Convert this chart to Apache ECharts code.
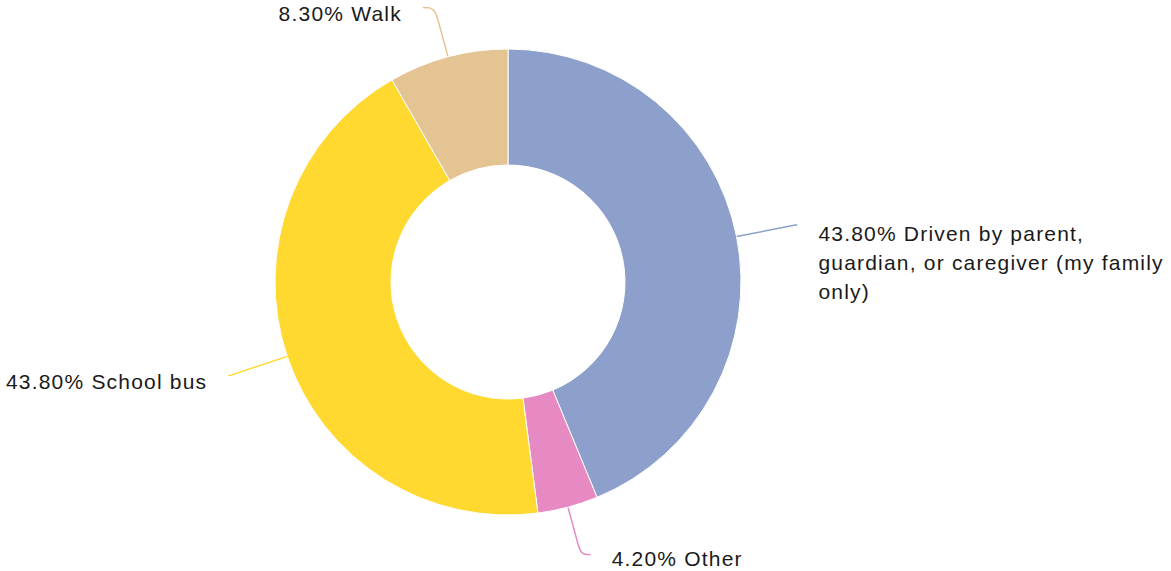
<!DOCTYPE html>
<html>
<head>
<meta charset="utf-8">
<script src="https://cdn.jsdelivr.net/npm/echarts@6/dist/echarts.min.js"></script>
<style>
  html, body { margin: 0; padding: 0; background: #fff; }
  #chart { width: 1171px; height: 571px; }
  #chart text { letter-spacing: 1.2px; }
</style>
</head>
<body>
<div id="chart"></div>
<script>
const categories = [
  "Driven by parent, guardian, or caregiver (my family only)",
  "Other",
  "School bus",
  "Walk"
];
const values = [43.8, 4.2, 43.8, 8.3];
const colors = ["#8da0cb", "#e78ac3", "#ffd92f", "#e5c494"];

// label-line geometry per slice (first segment, second segment) and label vertical nudge
const lineLen = [[60, 2], [49, 10], [60, 2], [51, 12]];
const labelDy = [38, 4, 6, 6];

const chart = echarts.init(document.getElementById('chart'), null, { renderer: 'svg' });

const data = categories.map((name, i) => ({
  name: name,
  value: values[i],
  itemStyle: { color: colors[i] },
  labelLine: { length: lineLen[i][0], length2: lineLen[i][1] }
}));

chart.setOption({
  animation: false,
  series: [{
    type: 'pie',
    center: [508, 282],
    radius: [117, 233],
    startAngle: 90,
    clockwise: true,
    avoidLabelOverlap: false,
    itemStyle: { borderColor: '#fff', borderWidth: 1 },
    label: {
      show: true,
      formatter: p => p.value.toFixed(2) + '% ' + p.name,
      fontFamily: '"Liberation Sans", Arial, sans-serif',
      fontSize: 21,
      lineHeight: 29,
      color: '#1a1a1a',
      width: 322,
      overflow: 'break',
      distanceToLabelLine: 21
    },
    labelLine: {
      show: true,
      length: 55,
      length2: 6,
      smooth: 0.4,
      lineStyle: { width: 1.5 }
    },
    labelLayout: function (params) {
      return { dy: labelDy[params.dataIndex] };
    },
    emphasis: { disabled: true },
    data: data
  }]
});
</script>
</body>
</html>
